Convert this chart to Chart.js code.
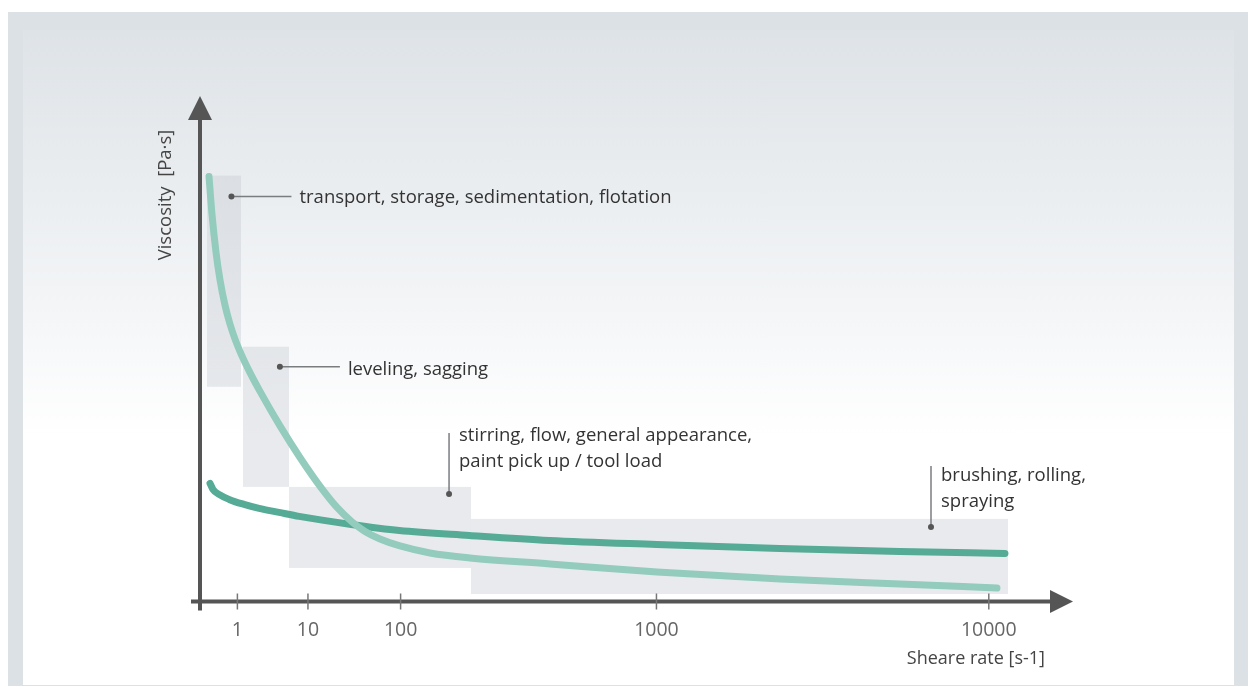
<!DOCTYPE html>
<html>
<head>
<meta charset="utf-8">
<script src="https://cdn.jsdelivr.net/npm/chart.js@4"></script>
<style>
  html, body { margin: 0; padding: 0; background: #fff; }
  #frame { position: absolute; left: 8px; top: 12px; width: 1240px; height: 674px; background: #dce1e5; }
  #inner { position: absolute; left: 23px; top: 30px; width: 1211px; height: 655px;
           background: linear-gradient(to bottom, #dee3e7 0%, #f2f4f6 40%, #ffffff 62%, #ffffff 100%); }
  #wrap { position: absolute; left: 0; top: 0; width: 1248px; height: 687px; }
</style>
</head>
<body>
<div id="frame"></div>
<div id="inner"></div>
<div id="wrap"><canvas id="viscChart"></canvas></div>
<script>
// schematic positions along the shear-rate axis (0..100 = y-axis to arrow)
var tickLabels = ["1", "10", "100", "1000", "10000"];
var tickPos = [4.4, 12.7, 23.6, 53.7, 92.8];

// curve 1 (light): strongly shear-thinning
var lightX = [1.06, 1.41, 1.88, 2.35, 2.94, 3.53, 4.12, 4.71, 5.88, 7.06, 9.41, 11.76, 14.35, 16.12, 17.88, 19.41, 21.18, 23.53, 27.06, 31.76, 41.18, 53.76, 68.24, 82.35, 93.76];
var lightY = [84.9, 77.4, 69.8, 64.28, 59.22, 55.42, 52.42, 49.92, 45.72, 41.98, 35.08, 28.78, 22.5, 18.8, 15.9, 14.0, 12.5, 11.1, 9.7, 8.7, 7.5, 5.9, 4.5, 3.5, 2.7];

// curve 2 (dark): weakly shear-thinning
var darkX = [1.18, 1.53, 2.24, 3.42, 5.18, 6.95, 9.30, 11.66, 17.79, 23.44, 31.68, 41.11, 53.71, 68.2, 82.33, 94.7];
var darkY = [23.6, 22.4, 21.4, 20.4, 19.4, 18.6, 17.8, 17.0, 15.4, 14.2, 13.2, 12.2, 11.4, 10.6, 10.0, 9.6];

// shear-rate regions of the application steps
var regionX0 = [0.82, 5.06, 10.47, 31.88];
var regionX1 = [4.82, 10.47, 31.88, 95.06];
var regionYTop = [85.1, 50.9, 22.9, 16.5];
var regionYBottom = [42.9, 22.9, 6.7, 1.5];

var annoLabels = [
    ["transport, storage, sedimentation, flotation"],
    ["leveling, sagging"],
    ["stirring, flow, general appearance,", "paint pick up / tool load"],
    ["brushing, rolling,", "spraying"]
];
var annoX = [3.7, 9.4, 29.3, 86.0];
var annoY = [80.9, 46.9, 21.5, 14.9];
var annoDir = ["h", "h", "v", "v"];

function pts(xs, ys) {
    return xs.map(function(x, i) { return { x: x, y: ys[i] }; });
}

var FONT = "'Open Sans', 'Noto Sans', sans-serif";
var textShift = [1, 3, 3, 10];

var decor = {
    id: "decor",
    beforeDatasetsDraw: function(chart) {
        var c = chart.ctx, sx = chart.scales.x, sy = chart.scales.y;
        c.save();
        // regions
        c.fillStyle = "rgba(200,206,212,0.42)";
        for (var i = 0; i < regionX0.length; i++) {
            var x0 = sx.getPixelForValue(regionX0[i]), x1 = sx.getPixelForValue(regionX1[i]);
            var y0 = sy.getPixelForValue(regionYTop[i]), y1 = sy.getPixelForValue(regionYBottom[i]);
            c.fillRect(x0, y0, x1 - x0, y1 - y0);
        }
        // annotations
        c.font = "18.5px " + FONT;
        for (var k = 0; k < annoLabels.length; k++) {
            var dx = sx.getPixelForValue(annoX[k]), dy = sy.getPixelForValue(annoY[k]);
            c.strokeStyle = "#7a7d80";
            c.lineWidth = 1.5;
            c.beginPath();
            c.moveTo(dx, dy);
            if (annoDir[k] === "h") c.lineTo(dx + 60, dy); else c.lineTo(dx, dy - 61);
            c.stroke();
            c.fillStyle = "#555";
            c.beginPath();
            c.arc(dx, dy, 3, 0, Math.PI * 2);
            c.fill();
            c.fillStyle = "#333";
            c.textBaseline = "middle";
            c.textAlign = "left";
            annoLabels[k].forEach(function(line, j) {
                if (annoDir[k] === "h") c.fillText(line, dx + 68, dy + textShift[k]);
                else c.fillText(line, dx + 10, dy - 61 + textShift[k] + j * 25.5);
            });
        }
        c.restore();
    },
    afterDraw: function(chart) {
        var c = chart.ctx, a = chart.chartArea, sx = chart.scales.x;
        var ax = a.left, ay = a.bottom;
        c.save();
        c.strokeStyle = "#555";
        c.fillStyle = "#555";
        c.lineWidth = 4;
        // y axis
        c.beginPath();
        c.moveTo(ax, ay + 9);
        c.lineTo(ax, a.top + 18);
        c.stroke();
        c.beginPath();
        c.moveTo(ax, a.top - 5);
        c.lineTo(ax - 12, a.top + 19);
        c.lineTo(ax + 12, a.top + 19);
        c.closePath();
        c.fill();
        // x axis
        c.beginPath();
        c.moveTo(ax - 9, ay);
        c.lineTo(a.right + 2, ay);
        c.stroke();
        c.beginPath();
        c.moveTo(a.right + 23, ay);
        c.lineTo(a.right, ay - 11.5);
        c.lineTo(a.right, ay + 11.5);
        c.closePath();
        c.fill();
        // ticks + labels
        c.strokeStyle = "#777";
        c.lineWidth = 1.5;
        c.font = "19.5px " + FONT;
        c.textAlign = "center";
        c.textBaseline = "middle";
        tickPos.forEach(function(p, i) {
            var px = sx.getPixelForValue(p);
            c.beginPath();
            c.moveTo(px, ay - 8);
            c.lineTo(px, ay + 8);
            c.stroke();
            c.fillStyle = "#666";
            c.fillText(tickLabels[i], px, ay + 29);
        });
        // axis titles
        c.fillStyle = "#444";
        c.font = "18px " + FONT;
        c.textAlign = "right";
        c.fillText("Sheare rate [s-1]", a.right - 5, ay + 57);
        c.translate(166, 195);
        c.rotate(-Math.PI / 2);
        c.textAlign = "center";
        c.font = "18.5px " + FONT;
        c.fillText("Viscosity  [Pa\u00b7s]", 0, 0);
        c.restore();
    }
};

var ctx = document.getElementById("viscChart").getContext("2d");
var viscChart = new Chart(ctx, {
    type: "line",
    data: {
        datasets: [
            {
                label: "curve 1",
                data: pts(lightX, lightY),
                borderColor: "#93ccbd",
                borderWidth: 7,
                borderCapStyle: "round",
                pointRadius: 0,
                cubicInterpolationMode: "monotone"
            },
            {
                label: "curve 2",
                data: pts(darkX, darkY),
                borderColor: "#55ab96",
                borderWidth: 7,
                borderCapStyle: "round",
                pointRadius: 0,
                cubicInterpolationMode: "monotone"
            }
        ]
    },
    options: {
        responsive: true,
        maintainAspectRatio: false,
        animation: false,
        layout: { padding: { left: 200, right: 198, top: 101, bottom: 85.5 } },
        plugins: { legend: { display: false }, tooltip: { enabled: false } },
        scales: {
            x: { type: "linear", min: 0, max: 100, display: false },
            y: { type: "linear", min: 0, max: 100, display: false }
        }
    },
    plugins: [decor]
});
</script>
</body>
</html>
